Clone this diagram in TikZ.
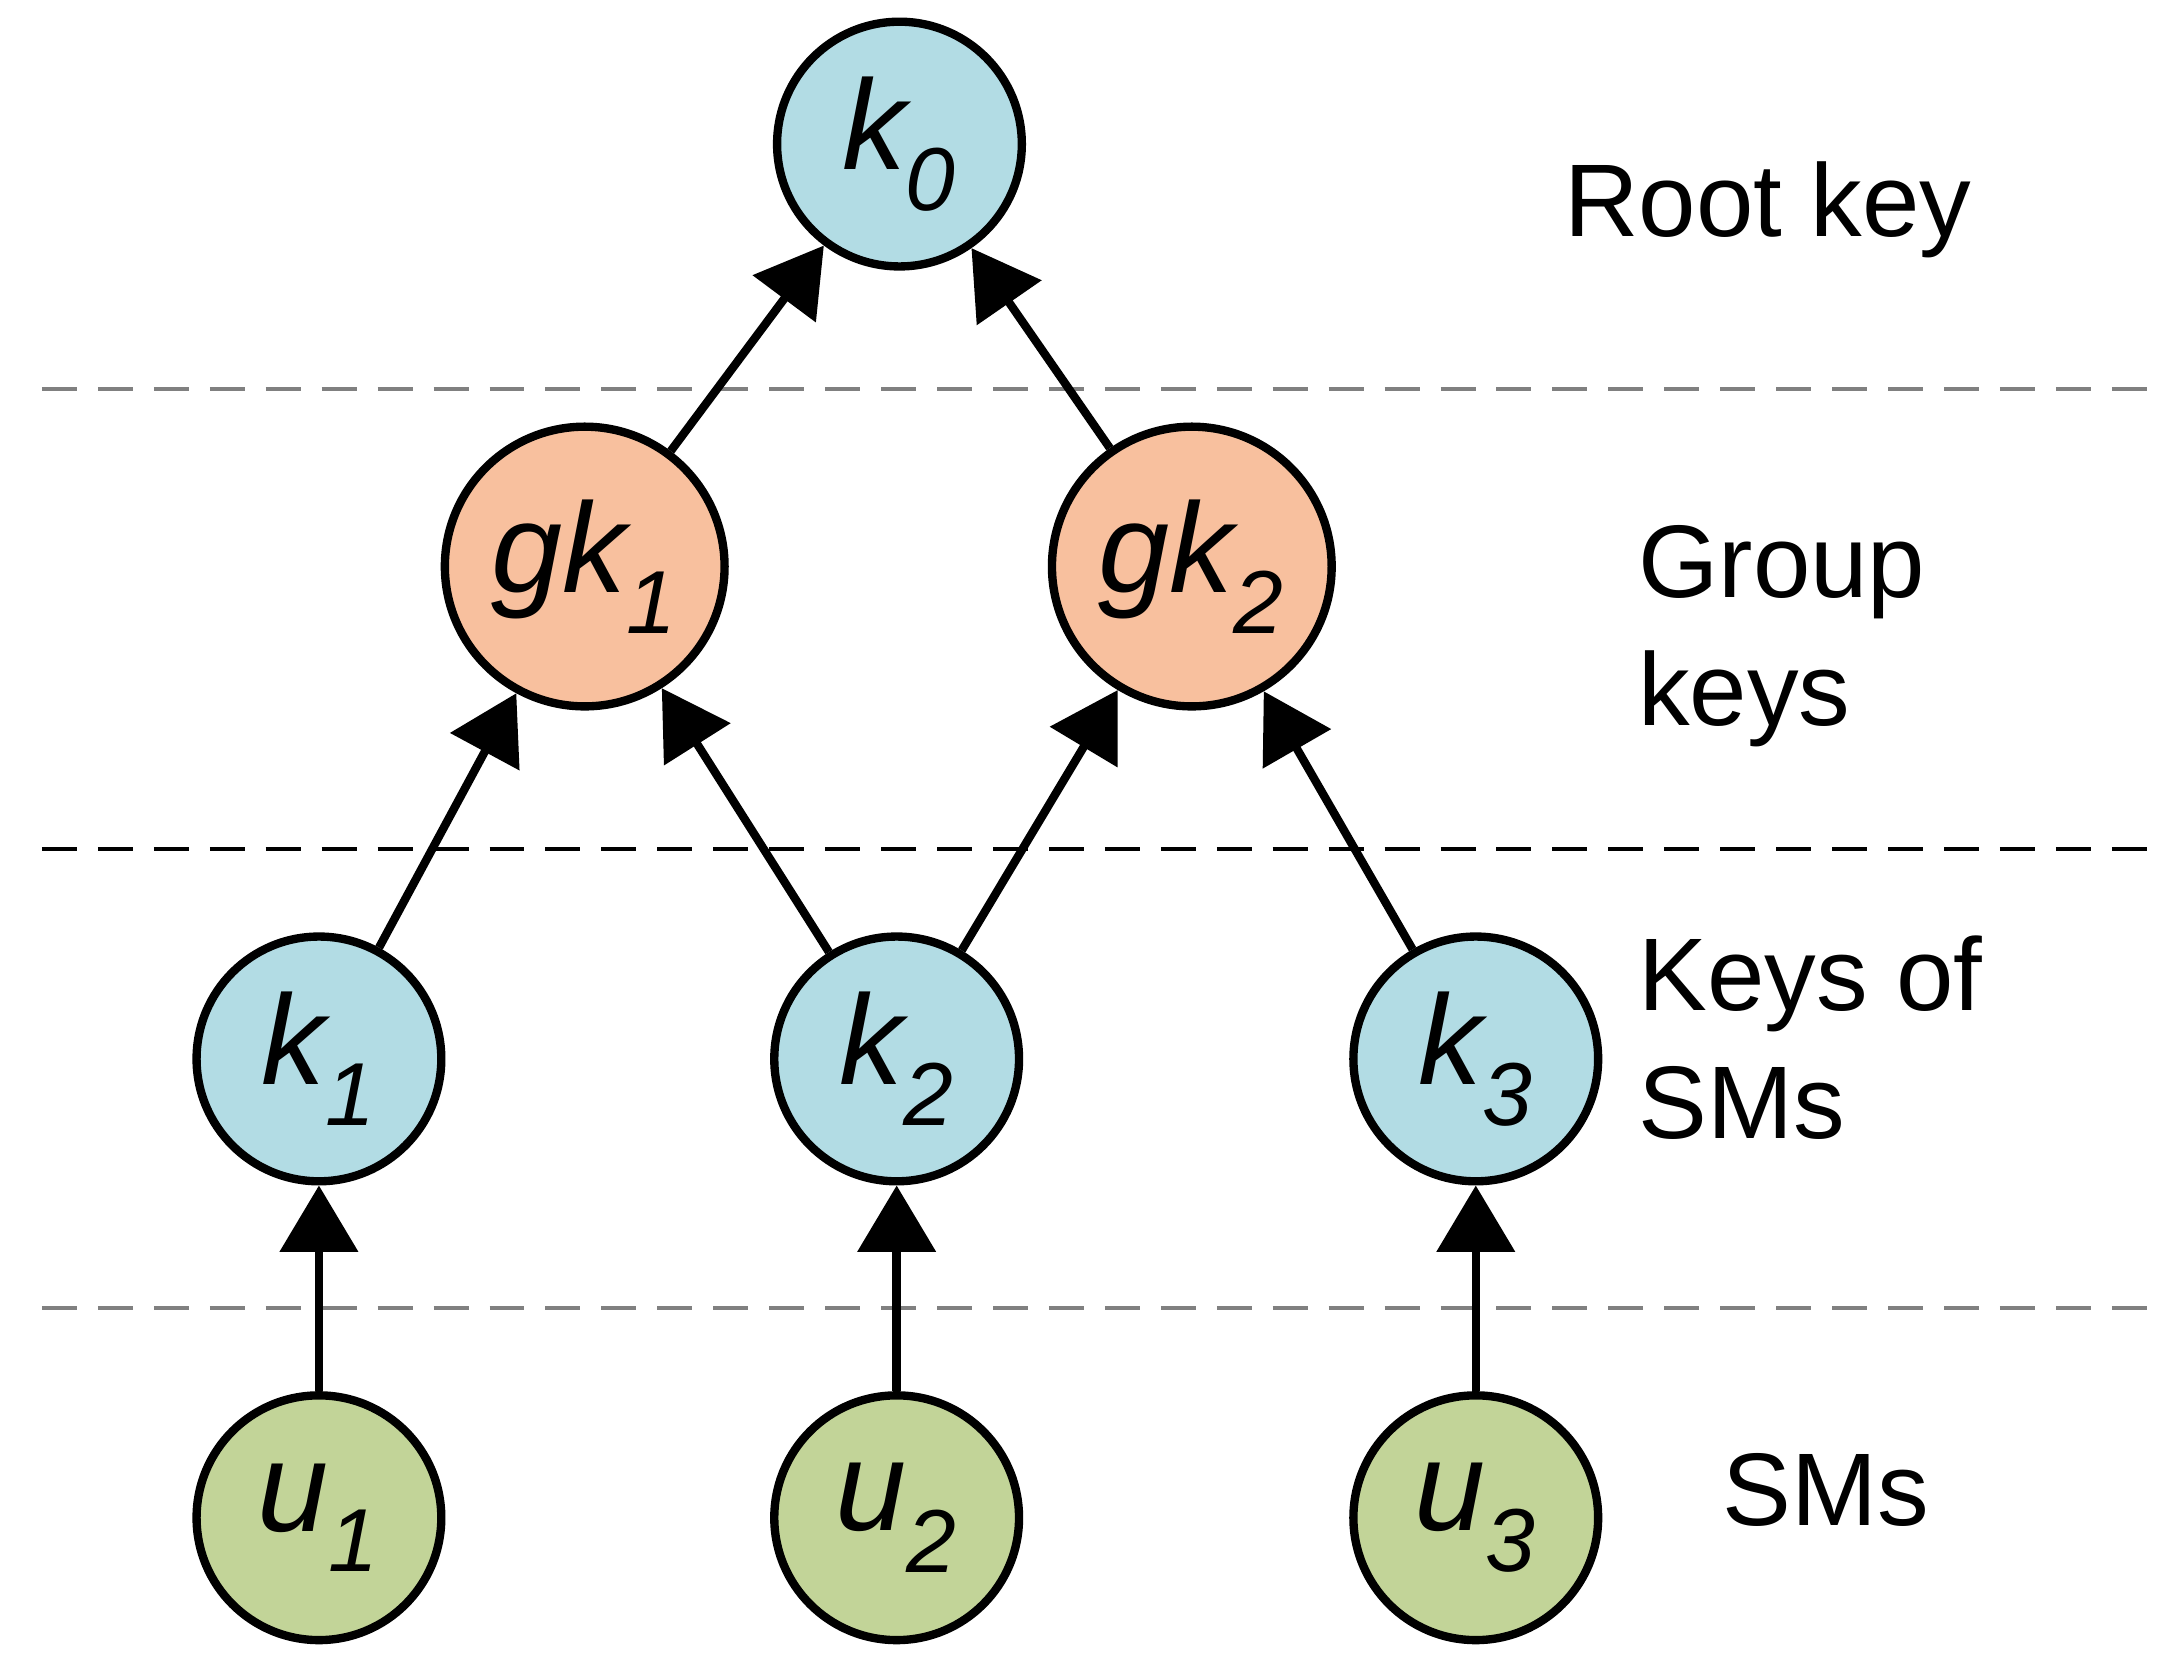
\documentclass[tikz,border=0pt]{standalone}
\usepackage{fontspec}
\setmainfont{Liberation Sans}
\usetikzlibrary{arrows.meta}
\definecolor{kb}{RGB}{178,220,228}
\definecolor{ko}{RGB}{248,192,158}
\definecolor{kg}{RGB}{194,212,152}
\begin{document}
\begin{tikzpicture}[x=0.02cm,y=-0.02cm,
  key/.style={circle,draw,line width=3.4pt,minimum size=3.5cm,inner sep=0pt,font=\fontsize{52}{60}\selectfont\itshape},
  big/.style={key,minimum size=4cm},
  arr/.style={line width=3.4pt,-{Triangle[width=1.1cm,length=0.95cm]}},
  sep/.style={dashed,line width=1.6pt,dash pattern=on 0.5cm off 0.3cm},
  lab/.style={font=\fontsize{42}{52}\selectfont,align=left,anchor=west}]
\useasboundingbox (0,0) rectangle (1552,1185);
\draw[sep,gray] (30,278) -- (1540,278);
\draw[sep,black] (30,607) -- (1540,607);
\draw[sep,gray] (30,935) -- (1540,935);
\node[key,fill=kb] (k0) at (643,103) {k\textsubscript{0}};
\node[big,fill=ko] (g1) at (418,405) {gk\textsubscript{1}};
\node[big,fill=ko] (g2) at (852,405) {gk\textsubscript{2}};
\node[key,fill=kb] (k1) at (228,757) {k\textsubscript{1}};
\node[key,fill=kb] (k2) at (641,757) {k\textsubscript{2}};
\node[key,fill=kb] (k3) at (1055,757) {k\textsubscript{3}};
\node[key,fill=kg] (u1) at (228,1085) {u\textsubscript{1}};
\node[key,fill=kg] (u2) at (641,1085) {u\textsubscript{2}};
\node[key,fill=kg] (u3) at (1055,1085) {u\textsubscript{3}};
\draw[arr] (g1) -- (k0);
\draw[arr] (g2) -- (k0);
\draw[arr] (k1) -- (g1);
\draw[arr] (k2) -- (g1);
\draw[arr] (k2) -- (g2);
\draw[arr] (k3) -- (g2);
\draw[arr] (u1) -- (k1);
\draw[arr] (u2) -- (k2);
\draw[arr] (u3) -- (k3);
\node[lab] (l0) at (1112,150) {Root key};
\node[lab] (l1) at (1165,455) {Group\\keys};
\node[lab] (l2) at (1165,742) {Keys of\\SMs};
\node[lab] (l3) at (1225,1065) {SMs};
\end{tikzpicture}
\end{document}
